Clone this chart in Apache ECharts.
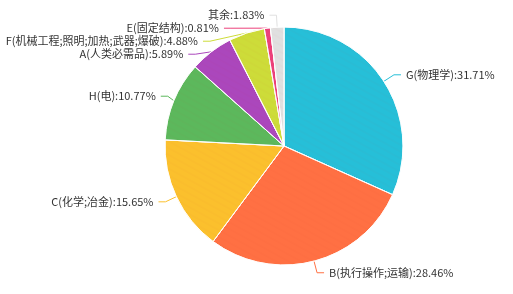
<!DOCTYPE html>
<html><head><meta charset="utf-8">
<script src="https://cdn.jsdelivr.net/npm/echarts@6/dist/echarts.min.js"></script>
<style>html,body{margin:0;padding:0;background:#fff}#c{width:513px;height:294px}</style>
</head><body><div id="c"></div>
<script>
const categories = ['G(物理学)','B(执行操作;运输)','C(化学;冶金)','H(电)','A(人类必需品)','F(机械工程;照明;加热;武器;爆破)','E(固定结构)','其余'];
const values = [31.71, 28.46, 15.65, 10.77, 5.89, 4.88, 0.81, 1.83];
const colors = ['#26bfd8','#ff7043','#fbc02d','#5cb85c','#ab47bc','#cddc39','#ec407a','#e0e0e0'];

const chart = echarts.init(document.getElementById('c'), null, {renderer:'canvas'});
chart.setOption({
  animation:false,
  color: colors,
  series:[{
    type:'pie',
    center:[284,146],
    radius:[0,119],
    startAngle:90,
    clockwise:true,
    avoidLabelOverlap:true,
    itemStyle:{borderColor:'#fff',borderWidth:0.8,
      decal:{symbol:'circle',symbolSize:0.6,dashArrayX:[1,0],dashArrayY:[2,4],color:'rgba(200,60,60,0.18)',rotation:0.5}},
    label:{show:true,formatter:'{b}:{c}%',fontSize:11,color:'#333',overflow:'none',fontFamily:'"Noto Sans CJK SC", sans-serif'},
    labelLine:{show:true,length:12,length2:7},
    data: categories.map((n,i)=>({name:n,value:values[i]}))
  }]
});
</script></body></html>
